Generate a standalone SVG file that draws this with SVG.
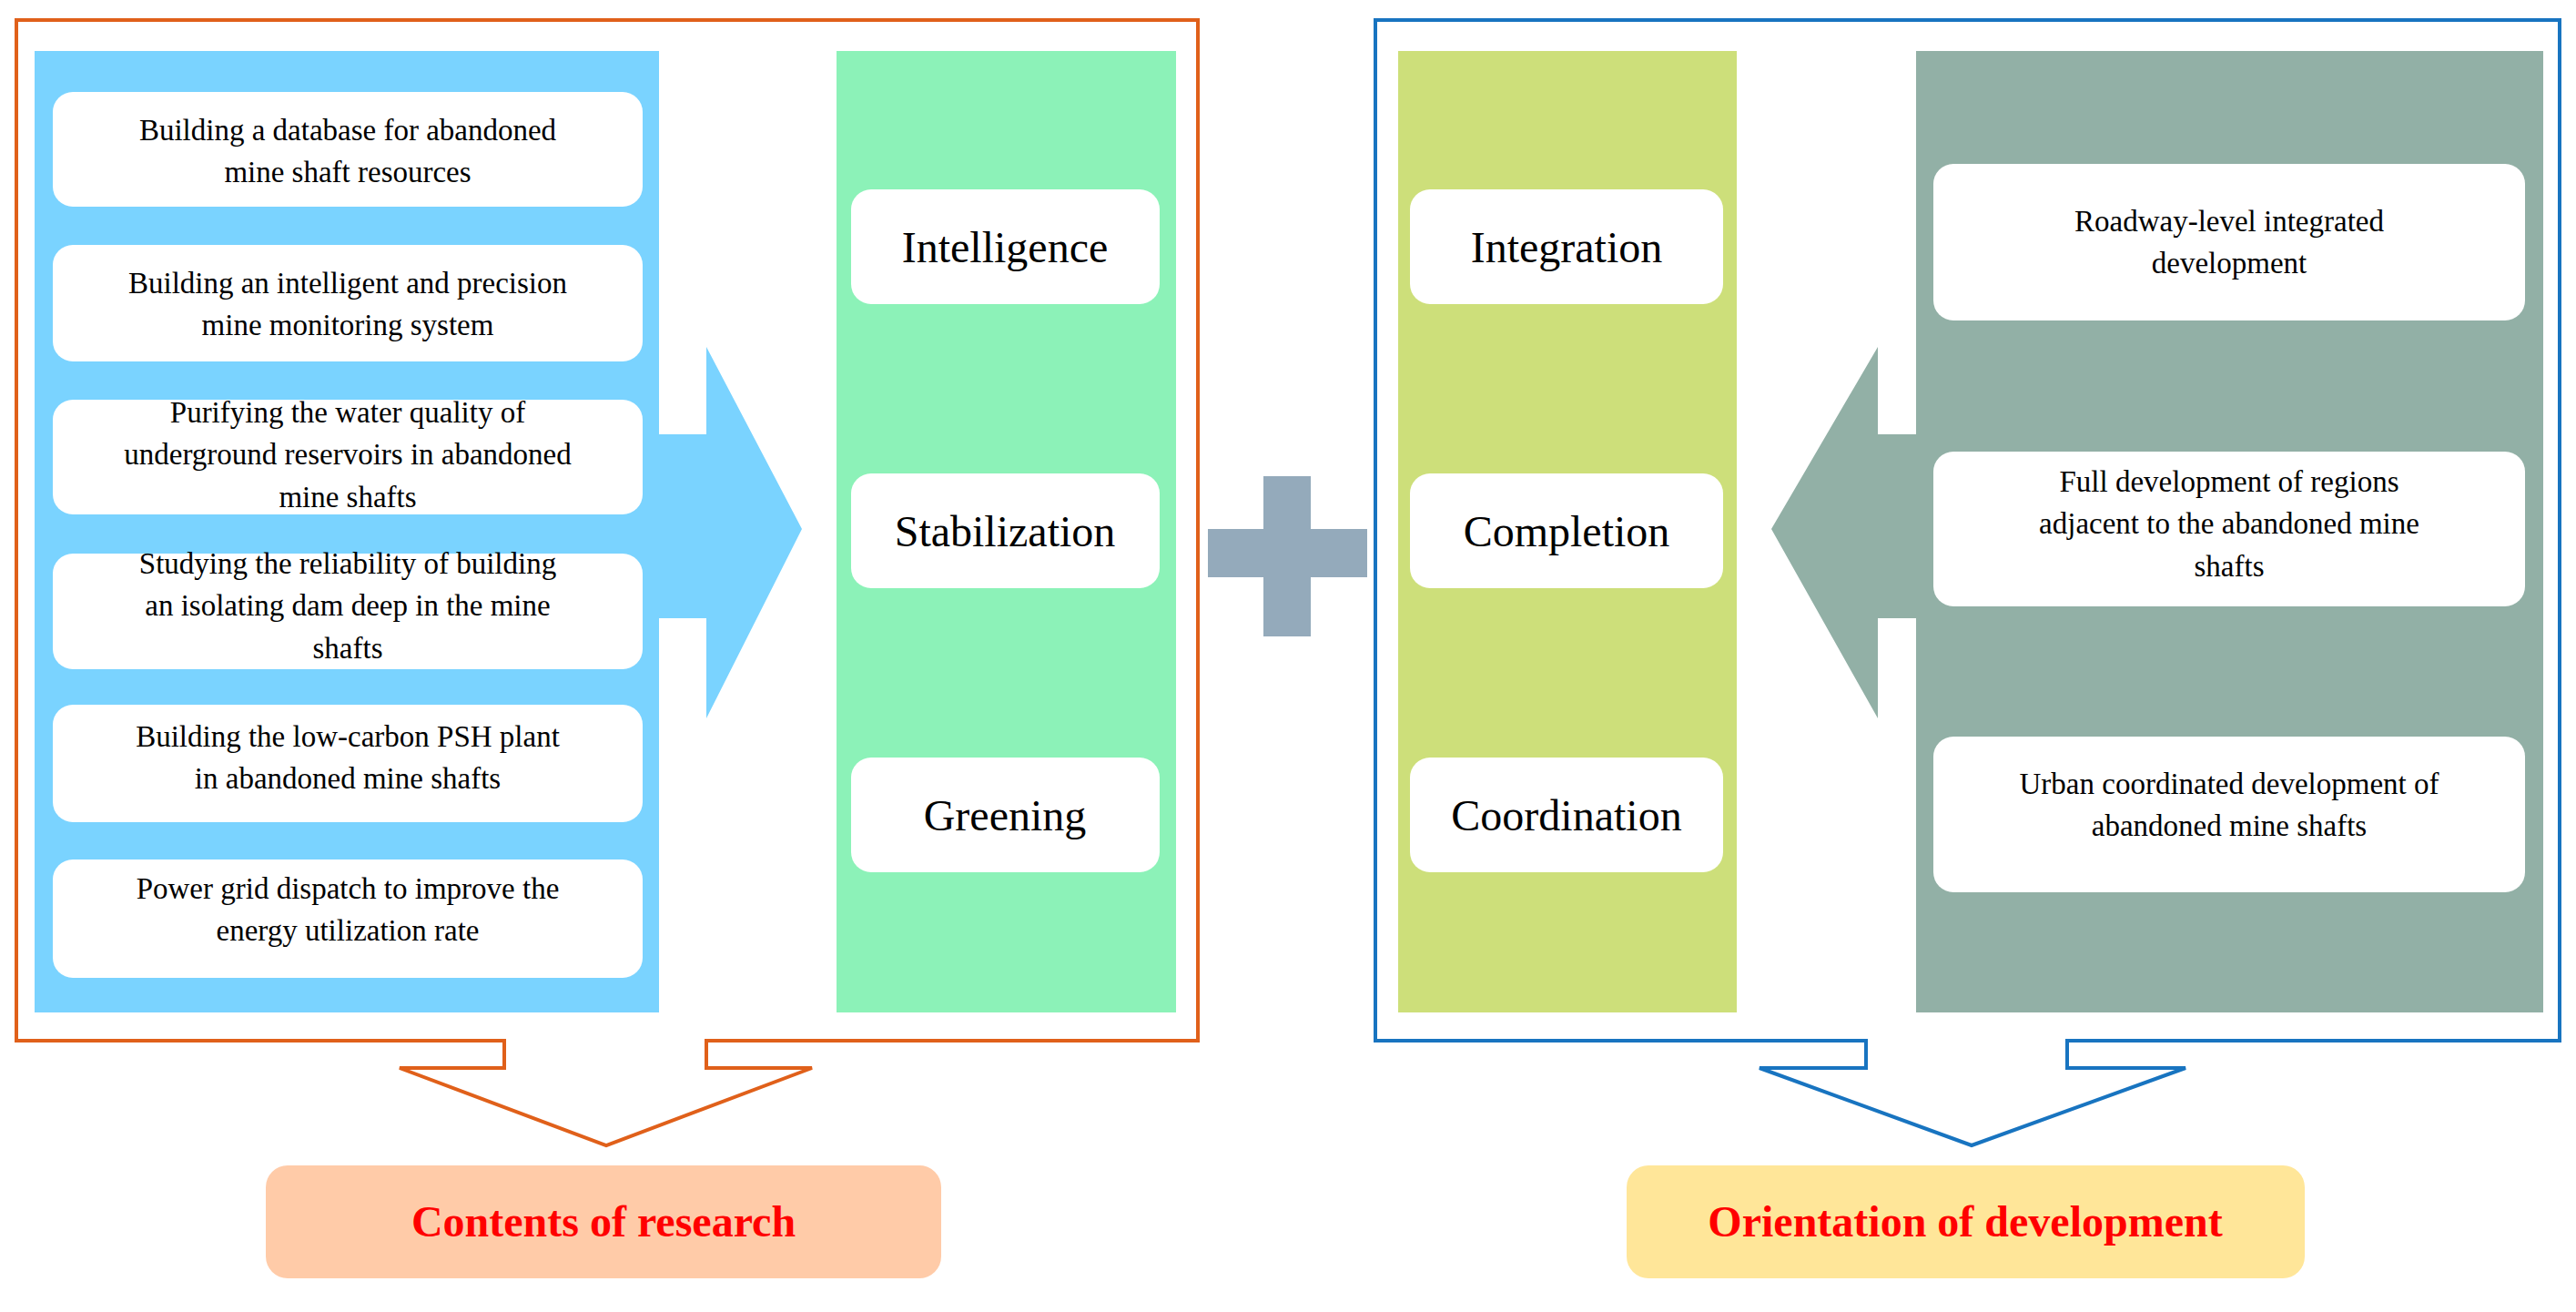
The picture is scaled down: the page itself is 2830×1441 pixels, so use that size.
<svg xmlns="http://www.w3.org/2000/svg" width="2830" height="1441" viewBox="0 0 2830 1441">
<style>
.t{font-family:"Liberation Serif","Times New Roman",serif;font-size:33px;fill:#000;text-anchor:middle}
.b{font-family:"Liberation Serif","Times New Roman",serif;font-size:48px;fill:#000;text-anchor:middle}
.lab{font-family:"Liberation Serif","Times New Roman",serif;font-size:48px;font-weight:bold;fill:#FF0000;text-anchor:middle}
.wb{fill:#fff;rx:22px}
</style>
<rect width="2830" height="1441" fill="#fff"/>
<g id="left-frame">
<path d="M554,1143 H18 V22 H1316 V1143 H776 V1173 H892 L666,1258 L439,1173 H554 Z" fill="none" stroke="#E0601A" stroke-width="4"/>
</g>
<g id="right-frame">
<path d="M2050,1143 H1511 V22 H2812 V1143 H2271 V1173 H2401 L2166,1258 L1933,1173 H2050 Z" fill="none" stroke="#1874C0" stroke-width="4"/>
</g>
<g id="research-panel">
<rect x="38" y="56" width="686" height="1056" fill="#7AD3FF"/>
<path d="M724,477 H776 V381 L881,581 L776,789 V679 H724 Z" fill="#7AD3FF"/>
<rect class="wb" x="58" y="101" width="648" height="126"/>
<text class="t" x="382" y="154">Building a database for abandoned</text><text class="t" x="382" y="200">mine shaft resources</text>
<rect class="wb" x="58" y="269" width="648" height="128"/>
<text class="t" x="382" y="322">Building an intelligent and precision</text><text class="t" x="382" y="368">mine monitoring system</text>
<rect class="wb" x="58" y="439" width="648" height="126"/>
<text class="t" x="382" y="464">Purifying the water quality of</text><text class="t" x="382" y="510">underground reservoirs in abandoned</text><text class="t" x="382" y="557">mine shafts</text>
<rect class="wb" x="58" y="608" width="648" height="127"/>
<text class="t" x="382" y="630">Studying the reliability of building</text><text class="t" x="382" y="676">an isolating dam deep in the mine</text><text class="t" x="382" y="723">shafts</text>
<rect class="wb" x="58" y="774" width="648" height="129"/>
<text class="t" x="382" y="820">Building the low-carbon PSH plant</text><text class="t" x="382" y="866">in abandoned mine shafts</text>
<rect class="wb" x="58" y="944" width="648" height="130"/>
<text class="t" x="382" y="987">Power grid dispatch to improve the</text><text class="t" x="382" y="1033">energy utilization rate</text>
</g>
<g id="goals-panel">
<rect x="919" y="56" width="373" height="1056" fill="#8CF2B8"/>
<rect class="wb" x="935" y="208" width="339" height="126"/><text class="b" x="1104" y="288">Intelligence</text>
<rect class="wb" x="935" y="520" width="339" height="126"/><text class="b" x="1104" y="600">Stabilization</text>
<rect class="wb" x="935" y="832" width="339" height="126"/><text class="b" x="1104" y="912">Greening</text>
</g>
<g id="plus">
<rect x="1388" y="523" width="52" height="176" fill="#94AABB"/>
<rect x="1327" y="581" width="175" height="53" fill="#94AABB"/>
</g>
<g id="orientation-panel">
<rect x="1536" y="56" width="372" height="1056" fill="#CDDF7A"/>
<rect class="wb" x="1549" y="208" width="344" height="126"/><text class="b" x="1721" y="288">Integration</text>
<rect class="wb" x="1549" y="520" width="344" height="126"/><text class="b" x="1721" y="600">Completion</text>
<rect class="wb" x="1549" y="832" width="344" height="126"/><text class="b" x="1721" y="912">Coordination</text>
</g>
<g id="development-panel">
<rect x="2105" y="56" width="689" height="1056" fill="#92B0A6"/>
<path d="M2105,477 H2063 V381 L1946,581 L2063,789 V679 H2105 Z" fill="#92B0A6"/>
<rect class="wb" x="2124" y="180" width="650" height="172"/>
<text class="t" x="2449" y="254">Roadway-level integrated</text><text class="t" x="2449" y="300">development</text>
<rect class="wb" x="2124" y="496" width="650" height="170"/>
<text class="t" x="2449" y="540">Full development of regions</text><text class="t" x="2449" y="586">adjacent to the abandoned mine</text><text class="t" x="2449" y="633">shafts</text>
<rect class="wb" x="2124" y="809" width="650" height="171"/>
<text class="t" x="2449" y="872">Urban coordinated development of</text><text class="t" x="2449" y="918">abandoned mine shafts</text>
</g>
<g id="label-research">
<rect x="292" y="1280" width="742" height="124" rx="24" fill="#FFCBA8"/>
<text class="lab" x="663" y="1358">Contents of research</text>
</g>
<g id="label-development">
<rect x="1787" y="1280" width="745" height="124" rx="24" fill="#FFE699"/>
<text class="lab" x="2159" y="1358">Orientation of development</text>
</g>
<g id="connectors"></g>
</svg>
